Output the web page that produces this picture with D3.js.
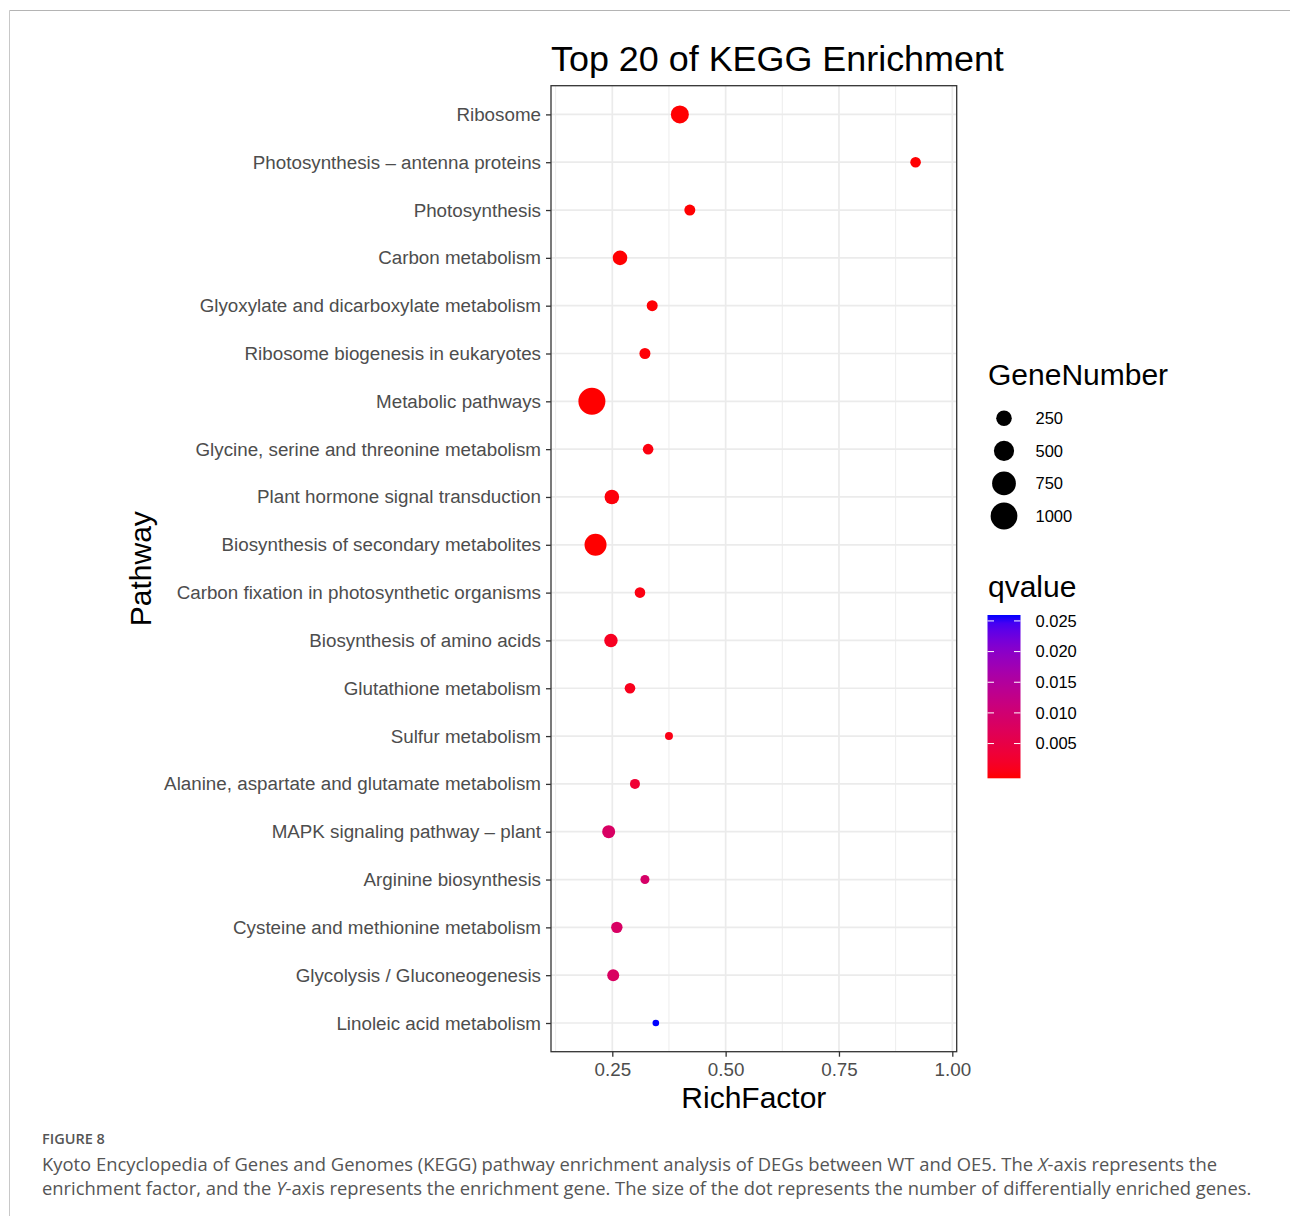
<!DOCTYPE html>
<html>
<head>
<meta charset="utf-8">
<script src="https://cdn.jsdelivr.net/npm/d3@7"></script>
<style>
  html, body { margin: 0; padding: 0; background: #fff; }
  svg { display: block; }
  .caption { font-family: "Open Sans", "Noto Sans", sans-serif; }
</style>
</head>
<body>
<svg id="fig" width="1290" height="1216"></svg>
<script>
// KEGG pathways, top to bottom
const pathways = [
  "Ribosome",
  "Photosynthesis – antenna proteins",
  "Photosynthesis",
  "Carbon metabolism",
  "Glyoxylate and dicarboxylate metabolism",
  "Ribosome biogenesis in eukaryotes",
  "Metabolic pathways",
  "Glycine, serine and threonine metabolism",
  "Plant hormone signal transduction",
  "Biosynthesis of secondary metabolites",
  "Carbon fixation in photosynthetic organisms",
  "Biosynthesis of amino acids",
  "Glutathione metabolism",
  "Sulfur metabolism",
  "Alanine, aspartate and glutamate metabolism",
  "MAPK signaling pathway – plant",
  "Arginine biosynthesis",
  "Cysteine and methionine metabolism",
  "Glycolysis / Gluconeogenesis",
  "Linoleic acid metabolism"
];
const richFactor = [0.399, 0.919, 0.421, 0.267, 0.338, 0.322, 0.205, 0.329, 0.249, 0.213,
                    0.311, 0.247, 0.289, 0.375, 0.300, 0.242, 0.322, 0.260, 0.252, 0.346];
const geneNumber = [370, 78, 88, 209, 88, 88, 1020, 78, 209, 619,
                    78, 163, 78, 26, 63, 149, 43, 99, 116, 10];
const qvalue = [0.0001, 0.0001, 0.0001, 0.0001, 0.0002, 0.0003, 0.0000, 0.0006, 0.0004, 0.0000,
                0.0008, 0.0018, 0.0014, 0.0010, 0.0035, 0.0085, 0.0090, 0.0085, 0.0083, 0.0253];

const xTicks = [0.25, 0.50, 0.75, 1.00];
const xMinorTicks = [0.125, 0.375, 0.625, 0.875];
const sizeBreaks = [250, 500, 750, 1000];
const qBreaks = [0.005, 0.010, 0.015, 0.020, 0.025];

const data = pathways.map((p, i) => ({
  pathway: p, rich: richFactor[i], genes: geneNumber[i], q: qvalue[i]
}));

const svg = d3.select("#fig");
const FONT = "'Liberation Sans', Arial, Helvetica, sans-serif";

// page frame
svg.append("line").attr("x1", 9.5).attr("x2", 1290).attr("y1", 10.5).attr("y2", 10.5)
  .attr("stroke", "#b4b4b4").attr("stroke-width", 1);
svg.append("line").attr("x1", 9.5).attr("x2", 9.5).attr("y1", 10.5).attr("y2", 1216)
  .attr("stroke", "#c8c8c8").attr("stroke-width", 1);

// panel geometry
const P = { left: 551, right: 956.7, top: 85.7, bottom: 1051.7 };

const x = d3.scaleLinear().domain([0.11478, 1.0097]).range([P.left, P.right]);
const y = d3.scalePoint().domain(pathways).range([P.top, P.bottom]).padding(0.6);
const r = d3.scaleSqrt().domain([10, 1020]).range([3.3, 13.5]);
const qExtent = [0, 0.0253];
const color = d3.scaleLinear().domain(qExtent).range(["#ff0000", "#0000ff"])
  .interpolate(d3.interpolateLab);

const g = svg.append("g");

// panel background + grid
g.append("rect").attr("x", P.left).attr("y", P.top)
  .attr("width", P.right - P.left).attr("height", P.bottom - P.top).attr("fill", "#fff");

g.selectAll(".xminor").data(xMinorTicks).join("line")
  .attr("x1", d => x(d)).attr("x2", d => x(d))
  .attr("y1", P.top).attr("y2", P.bottom)
  .attr("stroke", "#ebebeb").attr("stroke-width", 0.9);
g.selectAll(".xmajor").data(xTicks).join("line")
  .attr("x1", d => x(d)).attr("x2", d => x(d))
  .attr("y1", P.top).attr("y2", P.bottom)
  .attr("stroke", "#ebebeb").attr("stroke-width", 1.7);
g.selectAll(".ymajor").data(pathways).join("line")
  .attr("x1", P.left).attr("x2", P.right)
  .attr("y1", d => y(d)).attr("y2", d => y(d))
  .attr("stroke", "#ebebeb").attr("stroke-width", 1.7);

// points
g.selectAll(".pt").data(data).join("circle")
  .attr("cx", d => x(d.rich)).attr("cy", d => y(d.pathway))
  .attr("r", d => r(d.genes)).attr("fill", d => color(d.q));

// panel border
g.append("rect").attr("x", P.left).attr("y", P.top)
  .attr("width", P.right - P.left).attr("height", P.bottom - P.top)
  .attr("fill", "none").attr("stroke", "#333333").attr("stroke-width", 1.3);

// axes
const yAxis = g.append("g").attr("transform", `translate(${P.left},0)`)
  .call(d3.axisLeft(y).tickSize(5).tickPadding(5));
const xAxis = g.append("g").attr("transform", `translate(0,${P.bottom})`)
  .call(d3.axisBottom(x).tickValues(xTicks).tickFormat(d3.format(".2f")).tickSize(5).tickPadding(6));
[yAxis, xAxis].forEach(a => {
  a.select(".domain").remove();
  a.selectAll(".tick line").attr("stroke", "#333333").attr("stroke-width", 1.3);
  a.selectAll(".tick text").attr("fill", "#4d4d4d")
    .style("font-family", FONT).style("font-size", "18.8px");
});

// titles
svg.append("text").attr("x", P.left).attr("y", 71)
  .style("font-family", FONT).style("font-size", "35.9px").attr("fill", "#000")
  .text("Top 20 of KEGG Enrichment");
svg.append("text").attr("x", (P.left + P.right) / 2).attr("y", 1108)
  .attr("text-anchor", "middle")
  .style("font-family", FONT).style("font-size", "30px").attr("fill", "#000")
  .text("RichFactor");
svg.append("text").attr("transform", `translate(151,${(P.top + P.bottom) / 2}) rotate(-90)`)
  .attr("text-anchor", "middle")
  .style("font-family", FONT).style("font-size", "30px").attr("fill", "#000")
  .text("Pathway");

// size legend
const L = { x: 988 };
svg.append("text").attr("x", L.x).attr("y", 385)
  .style("font-family", FONT).style("font-size", "30px").attr("fill", "#000")
  .text("GeneNumber");
const sizeY = d3.scalePoint().domain(sizeBreaks).range([418.3, 516]);
const sl = svg.append("g");
sl.selectAll("circle").data(sizeBreaks).join("circle")
  .attr("cx", 1004).attr("cy", d => sizeY(d)).attr("r", d => r(d)).attr("fill", "#000");
sl.selectAll("text").data(sizeBreaks).join("text")
  .attr("x", 1035.5).attr("y", d => sizeY(d)).attr("dy", "0.35em")
  .style("font-family", FONT).style("font-size", "16.5px").attr("fill", "#000")
  .text(d => d);

// colour legend
svg.append("text").attr("x", L.x).attr("y", 597)
  .style("font-family", FONT).style("font-size", "30px").attr("fill", "#000")
  .text("qvalue");
const bar = { x: 987.5, w: 33, top: 615, bottom: 778.3 };
const half = (bar.bottom - bar.top) / 40;
const qy = d3.scaleLinear().domain(qExtent).range([bar.bottom - half, bar.top + half]);
const defs = svg.append("defs");
const grad = defs.append("linearGradient").attr("id", "qgrad")
  .attr("x1", 0).attr("x2", 0).attr("y1", 1).attr("y2", 0);
d3.range(0, 1.0001, 0.05).forEach(t => {
  grad.append("stop").attr("offset", t)
    .attr("stop-color", color(qExtent[0] + t * (qExtent[1] - qExtent[0])));
});
svg.append("rect").attr("x", bar.x).attr("y", bar.top)
  .attr("width", bar.w).attr("height", bar.bottom - bar.top).attr("fill", "url(#qgrad)");
const cl = svg.append("g");
cl.selectAll(".tl").data(qBreaks).join("line")
  .attr("x1", bar.x).attr("x2", bar.x + 6.5)
  .attr("y1", d => qy(d)).attr("y2", d => qy(d))
  .attr("stroke", "#fff").attr("stroke-width", 1);
cl.selectAll(".tr").data(qBreaks).join("line")
  .attr("x1", bar.x + bar.w - 6.5).attr("x2", bar.x + bar.w)
  .attr("y1", d => qy(d)).attr("y2", d => qy(d))
  .attr("stroke", "#fff").attr("stroke-width", 1);
cl.selectAll("text").data(qBreaks).join("text")
  .attr("x", 1035.5).attr("y", d => qy(d)).attr("dy", "0.35em")
  .style("font-family", FONT).style("font-size", "16.5px").attr("fill", "#000")
  .text(d => d3.format(".3f")(d));

// caption
const cap = svg.append("g").attr("class", "caption");
cap.append("text").attr("x", 42).attr("y", 1144)
  .style("font-size", "14.5px").style("font-weight", "600").attr("fill", "#555")
  .text("FIGURE 8");
const line1 = cap.append("text").attr("x", 42).attr("y", 1171)
  .style("font-size", "18.4px").attr("fill", "#555");
line1.append("tspan").text("Kyoto Encyclopedia of Genes and Genomes (KEGG) pathway enrichment analysis of DEGs between WT and OE5. The ");
line1.append("tspan").style("font-style", "italic").text("X");
line1.append("tspan").text("-axis represents the");
const line2 = cap.append("text").attr("x", 42).attr("y", 1195)
  .style("font-size", "18.4px").attr("fill", "#555");
line2.append("tspan").text("enrichment factor, and the ");
line2.append("tspan").style("font-style", "italic").text("Y");
line2.append("tspan").text("-axis represents the enrichment gene. The size of the dot represents the number of differentially enriched genes.");
</script>
</body>
</html>
